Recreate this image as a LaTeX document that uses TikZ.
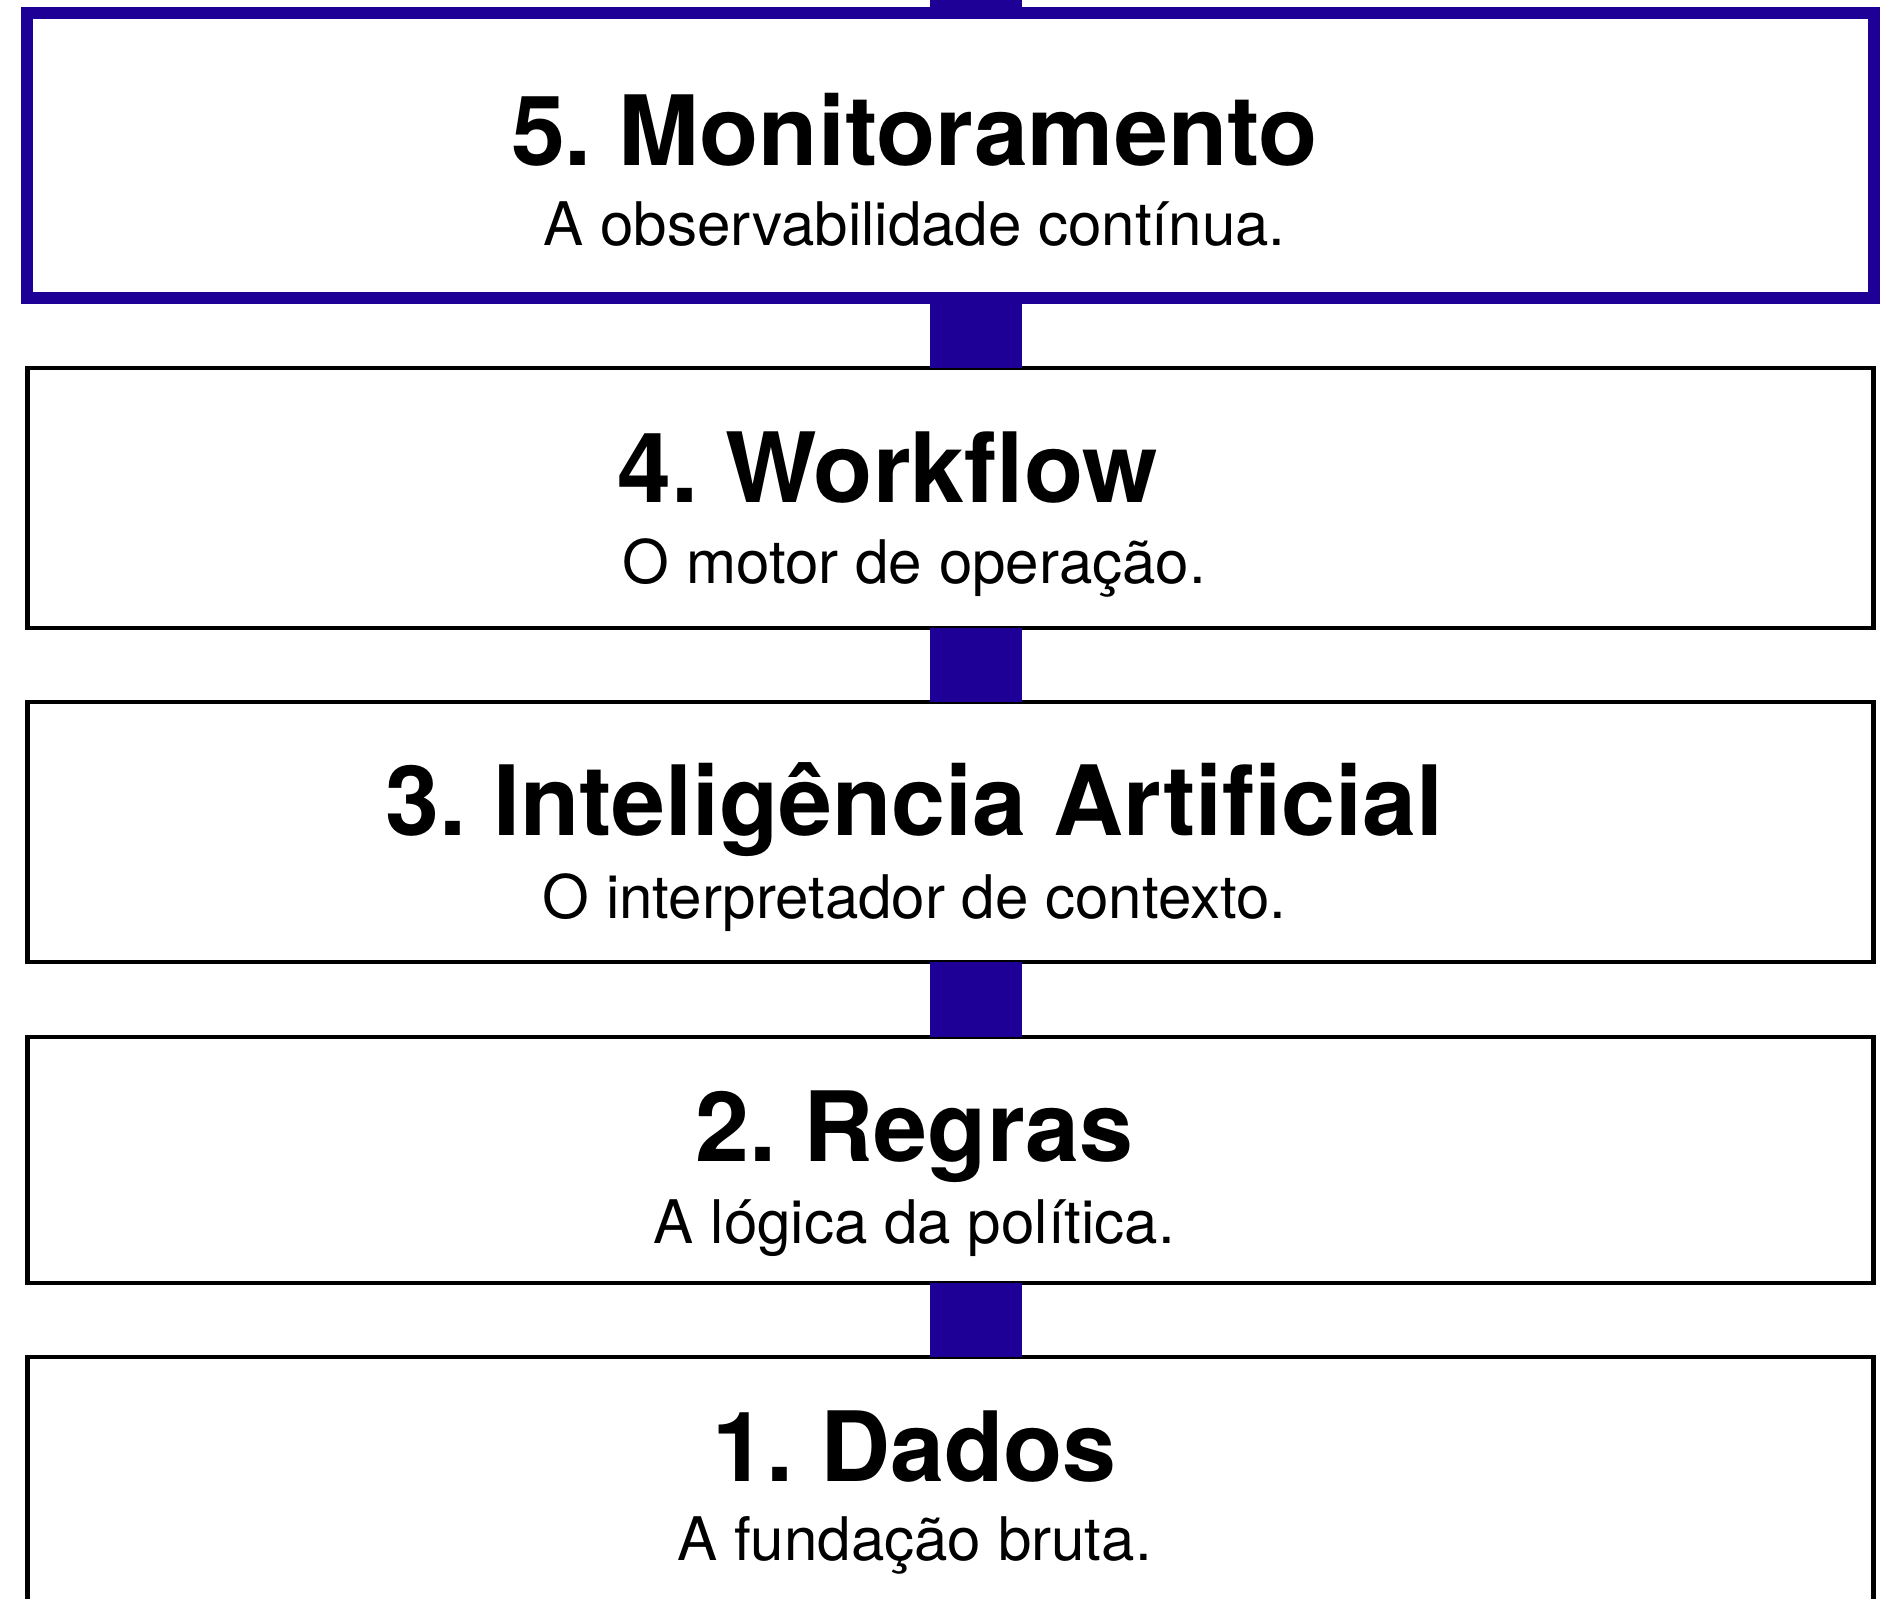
\documentclass[tikz,border=0pt]{standalone}
\usepackage{fontspec}
\setmainfont{TeX Gyre Heros}
\usetikzlibrary{positioning}
\frenchspacing

\definecolor{indigo}{RGB}{30,0,150}

\tikzstyle{layer} = [rectangle, draw=black, line width=0.45mm, fill=white, minimum width=184.6mm, inner sep=0pt, outer sep=0pt]
\tikzstyle{topLayer} = [layer, draw=indigo, line width=1.2mm]
\tikzstyle{title} = [anchor=base, inner sep=0pt, font={\bfseries\fontsize{27.6}{30}\selectfont}]
\tikzstyle{sub} = [anchor=base, inner sep=0pt, font={\fontsize{17.1}{20}\selectfont}]
\tikzstyle{bar} = [draw=indigo, line width=9.2mm]

\begin{document}
\begin{tikzpicture}[x=1mm, y=1mm]
            \useasboundingbox (0,0) rectangle (189.3,-159.9);
            \node[topLayer, minimum height=28.5mm] (L5) at (95.05,-15.55) {};
            \node[layer, below of=L5, node distance=34.25mm, minimum height=26mm] (L4) {};
            \node[layer, below of=L4, node distance=33.4mm, minimum height=26mm] (L3) {};
            \node[layer, below of=L3, node distance=32.8mm, minimum height=24.6mm] (L2) {};
            \node[layer, below of=L2, node distance=32.4mm, minimum height=25.4mm] (L1) {};
            % textos
            \node[title] (T5) at ([xshift=-3.6mm, yshift=-1mm]L5.center) {5. Monitoramento};
            \node[sub] (S5) at ([xshift=-3.6mm, yshift=-9mm]L5.center) {A observabilidade contínua.};
            \node[title] (T4) at ([xshift=-6.3mm, yshift=-0.4mm]L4.center) {4. Workflow};
            \node[sub] (S4) at ([xshift=-3.6mm, yshift=-8.5mm]L4.center) {O motor de operação.};
            \node[title] (T3) at ([xshift=-3.6mm, yshift=-0.3mm]L3.center) {3. Inteligência Artificial};
            \node[sub] (S3) at ([xshift=-3.6mm, yshift=-8.6mm]L3.center) {O interpretador de contexto.};
            \node[title] (T2) at ([xshift=-3.6mm, yshift=-0.1mm]L2.center) {2. Regras};
            \node[sub] (S2) at ([xshift=-3.6mm, yshift=-8.3mm]L2.center) {A lógica da política.};
            \node[title] (T1) at ([xshift=-3.6mm, yshift=0.3mm]L1.center) {1. Dados};
            \node[sub] (S1) at ([xshift=-3.6mm, yshift=-7.6mm]L1.center) {A fundação bruta.};
            % ligacoes
            \coordinate (top) at (97.6,0);
            \draw[bar] (top) -- (top |- L5.north);
            \draw[bar] ([xshift=2.55mm]L5.south) -- ([xshift=2.55mm]L4.north);
            \draw[bar] ([xshift=2.55mm]L4.south) -- ([xshift=2.55mm]L3.north);
            \draw[bar] ([xshift=2.55mm]L3.south) -- ([xshift=2.55mm]L2.north);
            \draw[bar] ([xshift=2.55mm]L2.south) -- ([xshift=2.55mm]L1.north);
        \end{tikzpicture}
\end{document}
